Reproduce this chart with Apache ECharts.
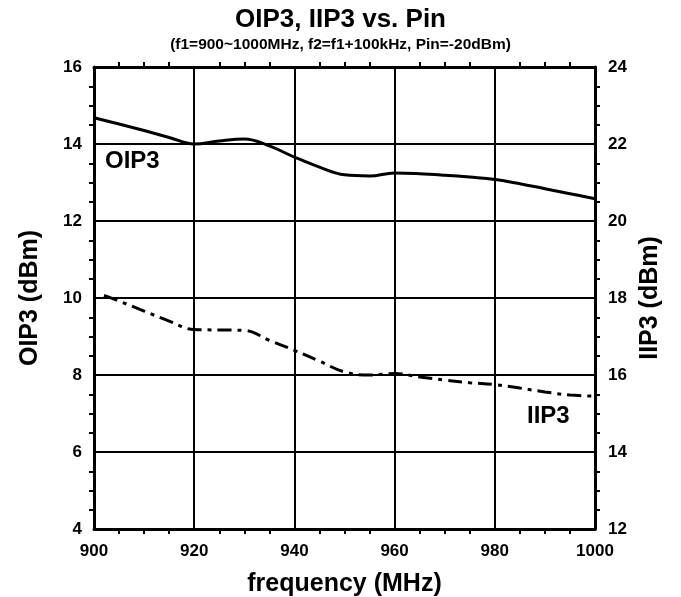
<!DOCTYPE html>
<html><head><meta charset="utf-8">
<script src="https://cdn.jsdelivr.net/npm/echarts@6/dist/echarts.min.js"></script>
<style>html,body{margin:0;padding:0;background:#fff}#c{width:681px;height:597px}</style>
</head><body><div id="c"></div>
<script>
const freq = [900,905,910,915,920,925,930,935,940,945,950,955,960,965,970,975,980,985,990,995,1000];
const oip3 = [14.68,14.52,14.35,14.17,14.0,14.08,14.13,13.95,13.66,13.4,13.2,13.17,13.25,13.23,13.19,13.14,13.08,12.97,12.84,12.71,12.58];
const iip3Freq = [902,905,910,915,920,925,930,935,940,945,950,955,960,965,970,975,980,985,990,995,1000];
const iip3 = [18.07,17.92,17.66,17.4,17.18,17.17,17.16,16.9,16.64,16.36,16.08,16.0,16.04,15.95,15.87,15.8,15.75,15.66,15.56,15.48,15.45];
const xTicks = [900,920,940,960,980,1000];
const leftTicks = [4,6,8,10,12,14,16];
const rightTicks = [12,14,16,18,20,22,24];

const F = 'Liberation Sans, Arial, sans-serif';
const chart = echarts.init(document.getElementById('c'));
const lbl = {fontFamily:F, fontWeight:'bold', fontSize:17, color:'#000'};
const minor = {show:true, length:5, lineStyle:{color:'#000', width:2}};
const axLine = {show:true, onZero:false, lineStyle:{color:'#000', width:3}};
chart.setOption({
  animation:false,
  title:[
    {text:'OIP3, IIP3 vs. Pin', left:'center', top:2, textStyle:{fontFamily:F, fontWeight:'bold', fontSize:26, color:'#000'}},
    {text:'(f1=900~1000MHz, f2=f1+100kHz, Pin=-20dBm)', left:'center', top:32, textStyle:{fontFamily:F, fontWeight:'bold', fontSize:15.5, color:'#000'}}
  ],
  grid:{left:94, right:86, top:67, bottom:68, containLabel:false, outerBoundsMode:'none'},
  xAxis:[
    {type:'value', min:xTicks[0], max:xTicks[xTicks.length-1], interval:20, position:'bottom',
     axisLine:axLine, axisTick:{show:false}, minorTick:Object.assign({splitNumber:4}, minor),
     splitLine:{show:true, lineStyle:{color:'#000', width:2}},
     axisLabel:Object.assign({margin:14, formatter:v=>String(v)}, lbl),
     name:'frequency (MHz)', nameLocation:'middle', nameGap:43,
     nameTextStyle:{fontFamily:F, fontWeight:'bold', fontSize:25, color:'#000'}},
    {type:'value', min:xTicks[0], max:xTicks[xTicks.length-1], interval:20, position:'top',
     axisLine:axLine, axisTick:{show:false}, minorTick:Object.assign({splitNumber:4}, minor),
     splitLine:{show:false}, axisLabel:{show:false}}
  ],
  yAxis:[
    {type:'value', min:leftTicks[0], max:leftTicks[leftTicks.length-1], interval:2, position:'left',
     axisLine:axLine, axisTick:{show:false}, minorTick:Object.assign({splitNumber:4}, minor),
     splitLine:{show:true, lineStyle:{color:'#000', width:2}},
     axisLabel:Object.assign({margin:12}, lbl),
     name:'OIP3 (dBm)', nameLocation:'middle', nameGap:51, nameRotate:90,
     nameTextStyle:{fontFamily:F, fontWeight:'bold', fontSize:25, color:'#000'}},
    {type:'value', min:rightTicks[0], max:rightTicks[rightTicks.length-1], interval:2, position:'right',
     axisLine:axLine, axisTick:{show:false}, minorTick:Object.assign({splitNumber:4}, minor),
     splitLine:{show:false},
     axisLabel:Object.assign({margin:13}, lbl),
     name:'IIP3 (dBm)', nameLocation:'middle', nameGap:40, nameRotate:90,
     nameTextStyle:{fontFamily:F, fontWeight:'bold', fontSize:25, color:'#000'}}
  ],
  series:[
    {type:'line', name:'OIP3', xAxisIndex:0, yAxisIndex:0, smooth:0.4, showSymbol:false,
     lineStyle:{color:'#000', width:3}, data:freq.map((f,i)=>[f,oip3[i]])},
    {type:'line', name:'IIP3', xAxisIndex:0, yAxisIndex:1, smooth:0.4, showSymbol:false,
     lineStyle:{color:'#000', width:3, type:[14,6,4,6]}, data:iip3Freq.map((f,i)=>[f,iip3[i]])}
  ],
  graphic:[
    {type:'text', left:105, top:149, style:{text:'OIP3', fontFamily:F, fontWeight:'bold', fontSize:24, fill:'#000'}},
    {type:'text', left:527, top:404, style:{text:'IIP3', fontFamily:F, fontWeight:'bold', fontSize:24, fill:'#000'}}
  ]
});
</script></body></html>
